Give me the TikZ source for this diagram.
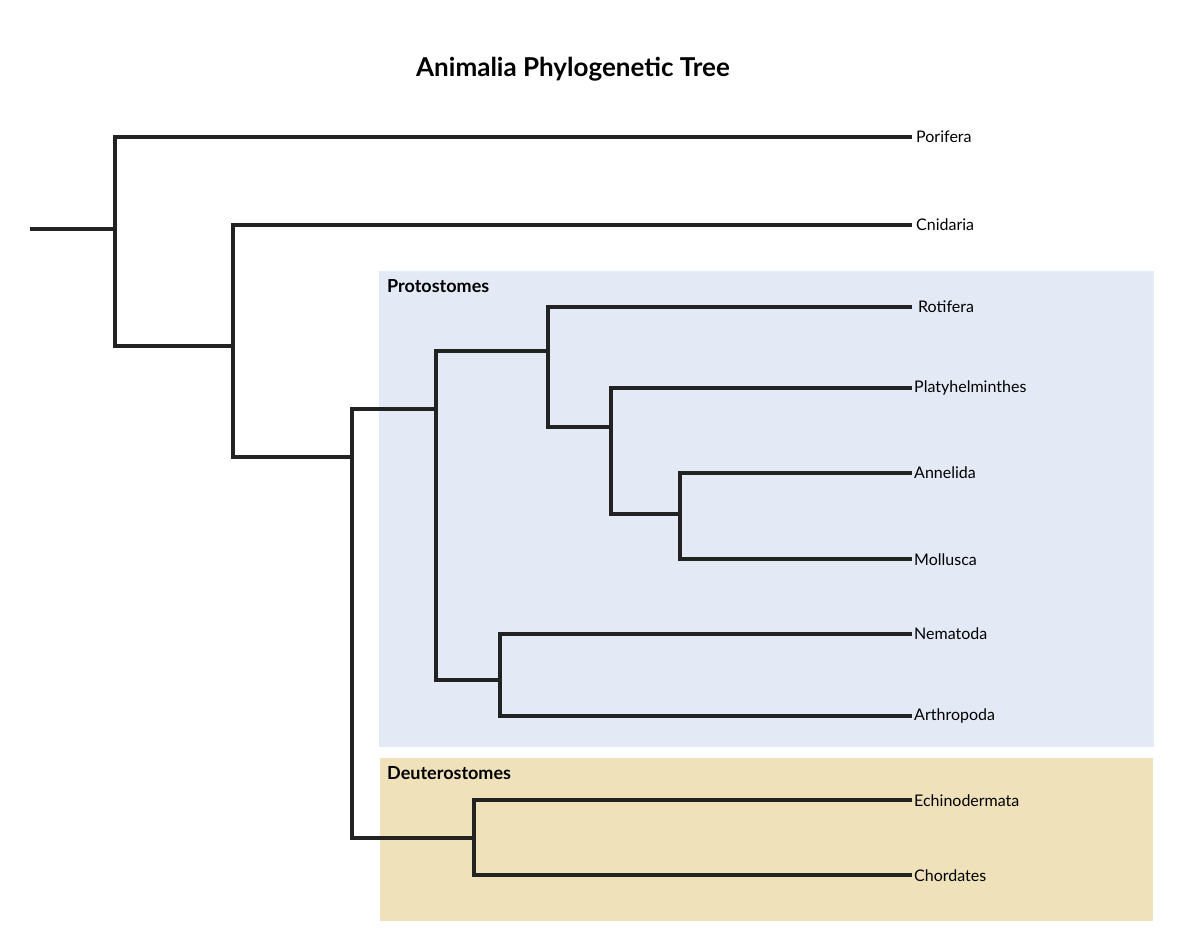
\documentclass[tikz,border=0pt]{standalone}
\usepackage{fontspec}
\setmainfont{Lato}
\definecolor{protofill}{HTML}{E4E9F6}
\definecolor{deutfill}{HTML}{EFE1B9}
\definecolor{branch}{HTML}{222222}
\begin{document}
\begin{tikzpicture}[x=1pt,y=-1pt,
  edge/.style={draw=branch,line width=4pt,line cap=rect,line join=miter},
  taxon/.style={anchor=west,inner sep=0pt,font=\fontsize{16}{18}\selectfont},
  clade/.style={anchor=north west,inner sep=0pt,font=\fontsize{18}{20}\selectfont\bfseries}]
  \useasboundingbox (0,0) rectangle (1192,944);
  %BOXES
  \fill[protofill] (379,271) rectangle (1154,747);
  \fill[deutfill] (380,758) rectangle (1153,921);
  \node[clade] (proto) at (387,279) {Protostomes};
  \node[clade] (deut) at (387,766) {Deuterostomes};
  \node[font=\fontsize{26}{30}\selectfont\bfseries] (title) at (573,69) {Animalia Phylogenetic Tree};
  %INNER NODES
  \coordinate (root) at (32,229);
  \coordinate (n1) at (115,229);
  \coordinate (n2) at (233,346);
  \coordinate (n3) at (352,457);
  \coordinate (n4) at (436,409);
  \coordinate (n5) at (548,351);
  \coordinate (n6) at (611,427);
  \coordinate (n7) at (680,514);
  \coordinate (n8) at (500,680);
  \coordinate (n9) at (474,838);
  %LEAVES
  \coordinate (poriferaEnd) at (910,137);
  \coordinate (cnidariaEnd) at (910,225);
  \coordinate (rotiferaEnd) at (910,307);
  \coordinate (platyEnd) at (910,388);
  \coordinate (annelidaEnd) at (910,473);
  \coordinate (molluscaEnd) at (910,559);
  \coordinate (nematodaEnd) at (910,634);
  \coordinate (arthroEnd) at (910,716);
  \coordinate (echinoEnd) at (910,800);
  \coordinate (chordEnd) at (910,875);
  \node[taxon] (porifera) at (916,137) {Porifera};
  \node[taxon] (cnidaria) at (916,225) {Cnidaria};
  \node[taxon] (rotifera) at (918,307) {Rotifera};
  \node[taxon] (platy) at (914,388) {Platyhelminthes};
  \node[taxon] (annelida) at (914,473) {Annelida};
  \node[taxon] (mollusca) at (914,560) {Mollusca};
  \node[taxon] (nematoda) at (914,634) {Nematoda};
  \node[taxon] (arthro) at (914,716) {Arthropoda};
  \node[taxon] (echino) at (914,801) {Echinodermata};
  \node[taxon] (chord) at (914,876) {Chordates};
  %BRANCHES
  \draw[edge] (root) -- (n1);
  \draw[edge] (poriferaEnd) -| (n1) |- (n2);
  \draw[edge] (cnidariaEnd) -| (n2) |- (n3);
  \draw[edge] (n4) -| (n3) |- (n9);
  \draw[edge] (n5) -| (n4) |- (n8);
  \draw[edge] (rotiferaEnd) -| (n5) |- (n6);
  \draw[edge] (platyEnd) -| (n6) |- (n7);
  \draw[edge] (annelidaEnd) -| (n7) |- (molluscaEnd);
  \draw[edge] (nematodaEnd) -| (n8) |- (arthroEnd);
  \draw[edge] (echinoEnd) -| (n9) |- (chordEnd);
\end{tikzpicture}
\end{document}
